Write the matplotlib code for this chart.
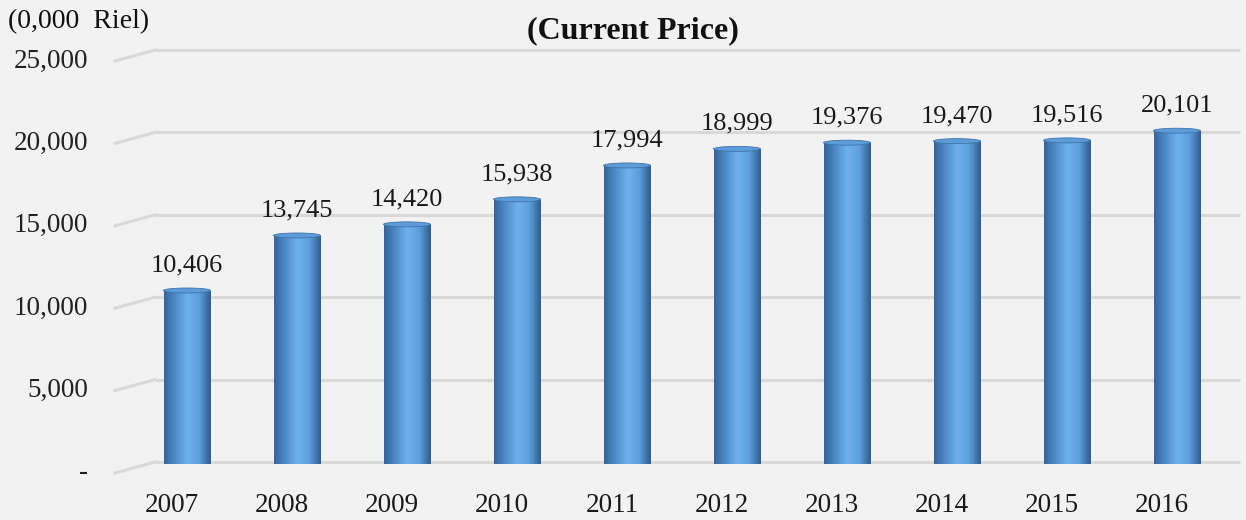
import matplotlib
matplotlib.use('Agg')
import matplotlib.pyplot as plt
from matplotlib.patches import Rectangle, Ellipse
from matplotlib.colors import LinearSegmentedColormap
import numpy as np

plt.rcParams['font.family'] = ['Liberation Serif', 'DejaVu Serif']

years = ['2007', '2008', '2009', '2010', '2011', '2012', '2013', '2014', '2015', '2016']
values = [10406, 13745, 14420, 15938, 17994, 18999, 19376, 19470, 19516, 20101]
ticks = [0, 5000, 10000, 15000, 20000, 25000]
tick_labels = ['-', '5,000', '10,000', '15,000', '20,000', '25,000']

W, H = 1246, 520
fig = plt.figure(figsize=(W / 100, H / 100), dpi=100, facecolor='#f2f2f2')

# axes spans pixel x 115..1240, y value 0 at px 462, 25000 at px 50
px_per_cat = 110
x0_px = 187
left_px, right_px = 115, 1240
bottom_px, top_px = 462, 50
ax = fig.add_axes([left_px / W, (H - bottom_px) / H, (right_px - left_px) / W, (bottom_px - top_px) / H])
ax.set_facecolor('#f2f2f2')
xl = (left_px - x0_px) / px_per_cat
xr = (right_px - x0_px) / px_per_cat
ax.axis('off')

val_per_px = 25000 / (bottom_px - top_px)
depth = 11 * val_per_px
x_back = (155 - x0_px) / px_per_cat

# perspective gridlines
for t in ticks:
    ax.plot([x_back, xr], [t, t], color='#d9d9d9', lw=2.2, clip_on=False, zorder=1,
            solid_capstyle='butt')
    ax.plot([xl, x_back], [t - depth, t], color='#d9d9d9', lw=2.2, clip_on=False, zorder=1)

# tick labels aligned with front edge
x_lab = (88 - x0_px) / px_per_cat
for t, lab in zip(ticks, tick_labels):
    ax.text(x_lab, t - depth, lab, ha='right', va='center', fontsize=19.5, color='#222222',
            clip_on=False)

cmap = LinearSegmentedColormap.from_list('cyl', ['#34649a', '#4f8cc9', '#6db2ee', '#5e9fdc', '#2f5c8c'])
grad = np.linspace(0, 1, 256).reshape(1, -1)
bw = 47 / px_per_cat
cap = 2.5 * val_per_px

for i, v in enumerate(values):
    rect = Rectangle((i - bw / 2, -cap), bw, v + cap, facecolor='none', edgecolor='none')
    ax.add_patch(rect)
    im = ax.imshow(grad, cmap=cmap, aspect='auto', extent=(i - bw / 2, i + bw / 2, -cap, v),
                   zorder=3, interpolation='bilinear')
    im.set_clip_path(rect)
    bot = Ellipse((i, -cap), bw, 2 * cap, facecolor='#4a84c0', edgecolor='none', zorder=2.9)
    ax.add_patch(bot)
    top = Ellipse((i, v), bw, 2 * cap, facecolor='#5d9cd8', edgecolor='#3f74aa', lw=0.6, zorder=4)
    ax.add_patch(top)
    ax.text(i, v + 25 * val_per_px, f'{v:,}', ha='center', va='center', fontsize=19,
            color='#1a1a1a', zorder=5)

year_shift = -15 / px_per_cat
for i, y in enumerate(years):
    ax.text(i + year_shift, -(505 - bottom_px) * val_per_px, y, ha='center', va='center',
            fontsize=19.5, color='#1a1a1a', clip_on=False)

ax.set_xlim(xl, xr)
ax.set_ylim(0, 25000)

fig.text(8 / W, 1 - 22 / H, '(0,000  Riel)', ha='left', va='center', fontsize=20, color='#111111')
fig.text(633 / W, 1 - 31 / H, '(Current Price)', ha='center', va='center', fontsize=23,
         fontweight='bold', color='#111111')

fig.savefig('out.png', dpi=100, facecolor='#f2f2f2')
